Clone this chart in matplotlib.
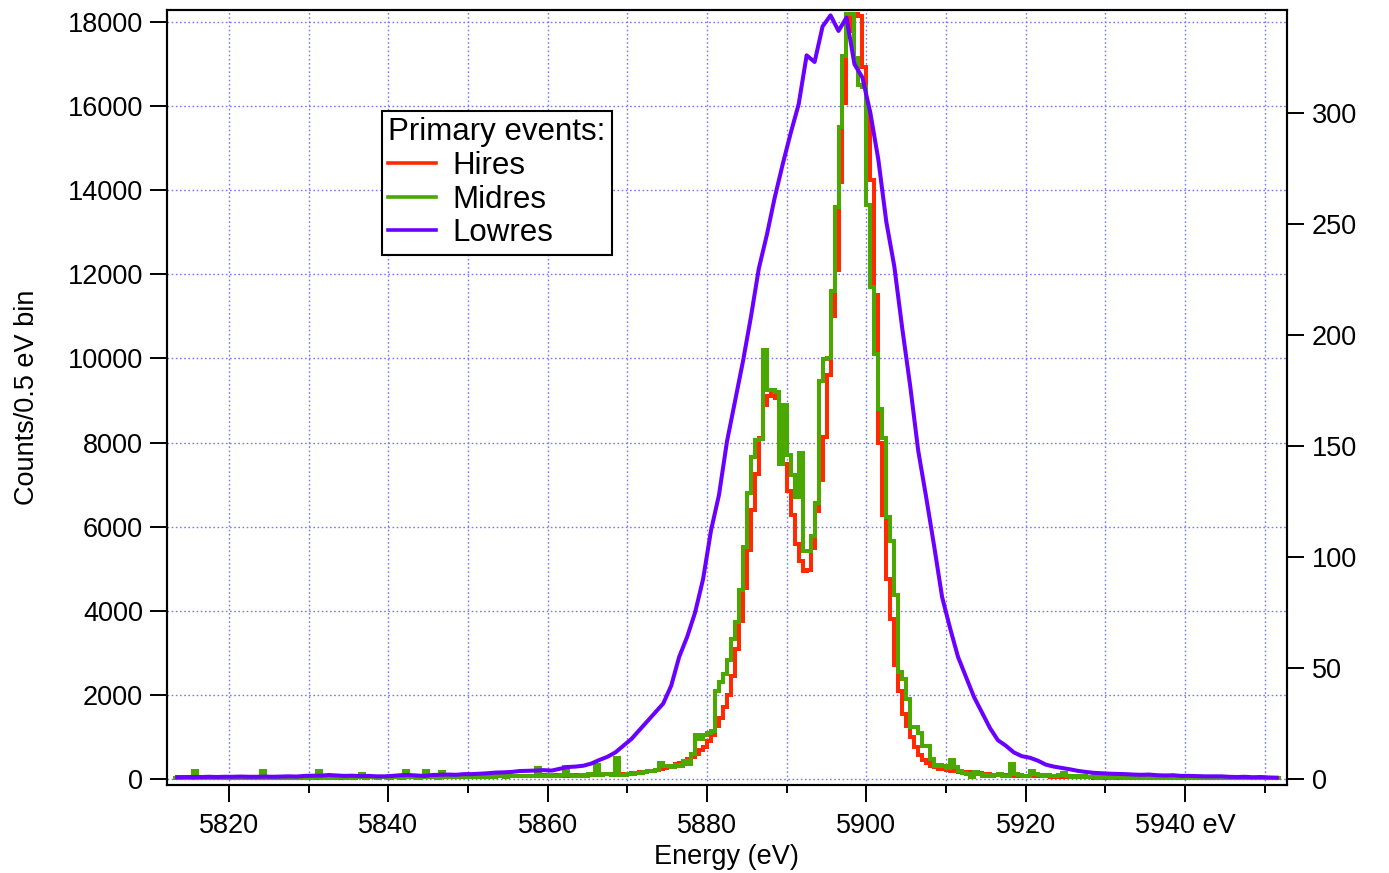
import numpy as np
import matplotlib
matplotlib.use('Agg')
import matplotlib.pyplot as plt
from matplotlib.ticker import FixedLocator, FixedFormatter, MultipleLocator

plt.rcParams['font.family'] = ['Liberation Sans', 'DejaVu Sans']
plt.rcParams['font.size'] = 19.5

# 0.5 eV bins, 5813 .. 5952 eV (rows of 10 bins = 5 eV)
bin_edges = np.arange(5813.0, 5952.0 + 0.25, 0.5)

hires = [
    30, 20, 30, 40, 20, 30, 20, 30, 40, 20,              # 5813
    30, 20, 40, 30, 20, 30, 30, 40, 20, 30,              # 5818
    30, 40, 20, 30, 40, 30, 20, 40, 30, 30,              # 5823
    40, 30, 40, 30, 30, 40, 30, 40, 40, 30,              # 5828
    40, 30, 40, 50, 30, 40, 40, 50, 30, 40,              # 5833
    50, 40, 40, 50, 40, 50, 40, 50, 50, 40,              # 5838
    50, 50, 40, 60, 50, 50, 60, 50, 60, 50,              # 5843
    60, 50, 60, 60, 70, 60, 60, 70, 60, 70,              # 5848
    70, 60, 70, 70, 80, 70, 80, 70, 80, 80,              # 5853
    80, 70, 90, 80, 90, 80, 90, 90, 80, 90,              # 5858
    90, 100, 90, 100, 100, 110, 100, 110, 110, 120,      # 5863
    110, 120, 120, 130, 130, 140, 150, 160, 170, 190,    # 5868
    200, 220, 240, 260, 290, 320, 350, 380, 420, 480,    # 5873
    520, 600, 680, 760, 900, 1050, 1250, 1450, 1700, 2000,         # 5878
    2450, 3100, 3750, 4550, 5450, 6400, 7250, 8100, 8900, 9100,    # 5883
    9150, 9050, 8250, 7500, 6850, 6280, 5580, 5180, 4950, 4980,    # 5888
    5500, 6380, 7100, 8120, 9600, 11000, 12100, 14200, 16070, 17780,  # 5893
    18150, 18200, 18150, 16940, 15870, 14240, 11500, 8000, 6270, 4760,  # 5898
    3810, 2700, 2100, 1550, 1270, 990, 750, 560, 440, 380,         # 5903
    320, 280, 240, 230, 220, 200, 200, 170, 160, 160,    # 5908
    150, 150, 140, 120, 110, 100, 100, 90, 100, 90,      # 5913
    90, 80, 90, 80, 70, 80, 70, 60, 70, 60,              # 5918
    50, 50, 40, 50, 40, 50, 40, 40, 50, 40,              # 5923
    40, 30, 40, 40, 30, 40, 30, 30, 40, 30,              # 5928
    30, 40, 30, 30, 20, 30, 30, 20, 30, 30,              # 5933
    20, 30, 20, 30, 30, 20, 30, 20, 20, 30,              # 5938
    20, 20, 30, 20, 20, 30, 20, 20, 30, 20,              # 5943
    20, 30, 20, 20, 20, 30, 20, 20,                      # 5948
]

midres = [
    30, 40, 20, 30, 40, 200, 30, 20, 40, 30,             # 5813
    20, 30, 40, 20, 30, 40, 30, 20, 30, 40,              # 5818
    30, 20, 190, 30, 40, 20, 30, 40, 30, 20,             # 5823
    40, 30, 20, 40, 30, 40, 180, 30, 40, 20,             # 5828
    30, 40, 50, 30, 40, 30, 40, 120, 30, 40,             # 5833
    40, 30, 50, 40, 30, 50, 40, 30, 180, 40,             # 5838
    50, 30, 40, 180, 50, 40, 30, 170, 40, 50,            # 5843
    50, 40, 60, 50, 40, 60, 50, 70, 40, 60,              # 5848
    50, 70, 60, 50, 70, 60, 80, 60, 70, 80,              # 5853
    70, 250, 80, 60, 90, 80, 70, 100, 280, 90,           # 5858
    80, 60, 100, 80, 120, 90, 340, 100, 120, 110,        # 5863
    100, 500, 100, 90, 110, 130, 150, 140, 170, 200,     # 5868
    180, 220, 380, 300, 320, 290, 330, 300, 420, 350,    # 5873
    600, 1050, 950, 1050, 1100, 1150, 2100, 2300, 2500, 2830,      # 5878
    3340, 3740, 4490, 5520, 6790, 7660, 8050, 8090, 10200, 9250,   # 5883
    9250, 9200, 7500, 8900, 7700, 7220, 6700, 7750, 5420, 5420,    # 5888
    5780, 6570, 9470, 9980, 10000, 11600, 13600, 15500, 17200, 18200,  # 5893
    18200, 17150, 16500, 16450, 13650, 11700, 10100, 8800, 8100, 6230,  # 5898
    5670, 4370, 2540, 2380, 1900, 1230, 1230, 1100, 790, 790,      # 5903
    480, 320, 340, 300, 250, 440, 280, 200, 150, 120,    # 5908
    40, 160, 130, 80, 90, 60, 100, 120, 70, 60,          # 5913
    360, 120, 100, 60, 80, 200, 130, 90, 60, 100,        # 5918
    80, 60, 100, 140, 60, 50, 80, 40, 60, 50,            # 5923
    40, 60, 30, 50, 40, 30, 50, 40, 30, 40,              # 5928
    30, 40, 30, 20, 40, 30, 20, 30, 40, 30,              # 5933
    20, 30, 40, 20, 30, 20, 30, 40, 20, 30,              # 5938
    30, 20, 30, 40, 20, 30, 20, 30, 20, 30,              # 5943
    20, 30, 20, 30, 20, 20, 30, 20,                      # 5948
]

# low resolution spectrum, 1 eV points 5813.5 .. 5951.5 eV, right axis
lowres_energy = np.arange(5813.5, 5952.0, 1.0)
lowres = [
    0.8, 0.9, 0.9, 0.9, 1.0, 0.9, 1.0, 1.0, 1.1, 1.0,
    1.0, 1.1, 1.0, 1.1, 1.2, 1.1, 1.4, 1.5, 1.5, 1.8,
    1.6, 1.4, 1.5, 1.3, 1.4, 1.2, 1.2, 1.4, 1.7, 1.8,
    1.6, 1.4, 1.8, 1.9, 2.0, 1.9, 2.2, 2.2, 2.4, 2.6,
    2.9, 3.0, 3.2, 3.6, 3.7, 3.8, 4.0, 3.8, 4.6, 5.4,
    5.6, 6.0, 7.0, 8.6, 10.0, 12.0, 15.0, 18.0, 22.0, 26.0,
    30.0, 34.0, 42.0, 55.0, 64.0, 75.0, 90.0, 112.0, 128.0, 152.0,
    170.0, 188.0, 208.0, 230.0, 245.0, 262.0, 277.0, 291.0, 304.0, 326.0,
    323.0, 339.0, 344.0, 337.0, 343.0, 322.0, 316.0, 300.0, 279.0, 251.0,
    231.0, 203.0, 177.0, 148.0, 127.0, 105.0, 82.0, 68.0, 55.0, 46.0,
    37.0, 30.0, 23.0, 17.5, 15.0, 12.0, 10.3, 9.6, 8.3, 6.5,
    5.6, 5.0, 4.4, 3.7, 3.2, 2.8, 2.6, 2.4, 2.3, 2.2,
    2.0, 1.9, 2.0, 1.7, 1.6, 1.7, 1.4, 1.4, 1.3, 1.2,
    1.2, 1.2, 1.0, 0.9, 1.0, 0.8, 0.9, 0.7, 0.6,
]

x_ticks = [5820, 5840, 5860, 5880, 5900, 5920, 5940]
x_labels = ['5820', '5840', '5860', '5880', '5900', '5920', '5940 eV']

red = '#ff2a00'
green = '#4aa800'
purple = '#6a00ff'
grid_color = '#7878ff'
line_w = 2.9

fig = plt.figure(figsize=(13.89, 8.73), dpi=100)
ax = fig.add_axes([0.12, 0.1008, 0.8064, 0.8877])
ax2 = ax.twinx()

h1 = ax.stairs(hires, bin_edges, baseline=None, color=red, lw=line_w, label='Hires')
h2 = ax.stairs(midres, bin_edges, baseline=None, color=green, lw=line_w, label='Midres')
h3, = ax2.plot(lowres_energy, lowres, color=purple, lw=line_w, label='Lowres')

ax.set_xlim(5812.18, 5952.76)
ax.set_ylim(-143, 18283)
ax2.set_ylim(-2.7, 346.4)

ax.xaxis.set_major_locator(FixedLocator(x_ticks))
ax.xaxis.set_major_formatter(FixedFormatter(x_labels))
ax.xaxis.set_minor_locator(MultipleLocator(10))
ax.yaxis.set_major_locator(MultipleLocator(2000))
ax2.yaxis.set_major_locator(MultipleLocator(50))

grid_style = dict(color=grid_color, ls=(0, (1.2, 1.8)), lw=1.0)
ax.grid(True, which='both', axis='x', **grid_style)
ax.grid(True, which='major', axis='y', **grid_style)
ax.set_axisbelow(True)

for a in (ax, ax2):
    for sp in a.spines.values():
        sp.set_linewidth(1.5)
        sp.set_color('black')
ax.tick_params(axis='x', which='major', direction='out', length=12, width=1.4, pad=8)
ax.tick_params(axis='x', which='minor', direction='out', length=6, width=1.4)
ax.tick_params(axis='y', which='major', direction='out', length=12, width=1.4, pad=5)
ax2.tick_params(axis='y', which='major', direction='out', length=12, width=1.4, pad=6)

ax.set_xlabel('Energy (eV)', labelpad=4)
ax.set_ylabel('Counts/0.5 eV bin', labelpad=20)

leg = ax2.legend(handles=[h1, h2, h3], title='Primary events:',
                 loc='upper left', bbox_to_anchor=(0.192, 0.870), borderaxespad=0,
                 fancybox=False, framealpha=1, edgecolor='black', fontsize=22.5,
                 handlelength=1.55, handletextpad=0.5, labelspacing=0.12,
                 borderpad=0.2, alignment='left', title_fontsize=22.5)
leg.get_frame().set_linewidth(1.5)
for line in leg.get_lines():
    line.set_linewidth(2.6)

fig.savefig('out.png', dpi=100)
